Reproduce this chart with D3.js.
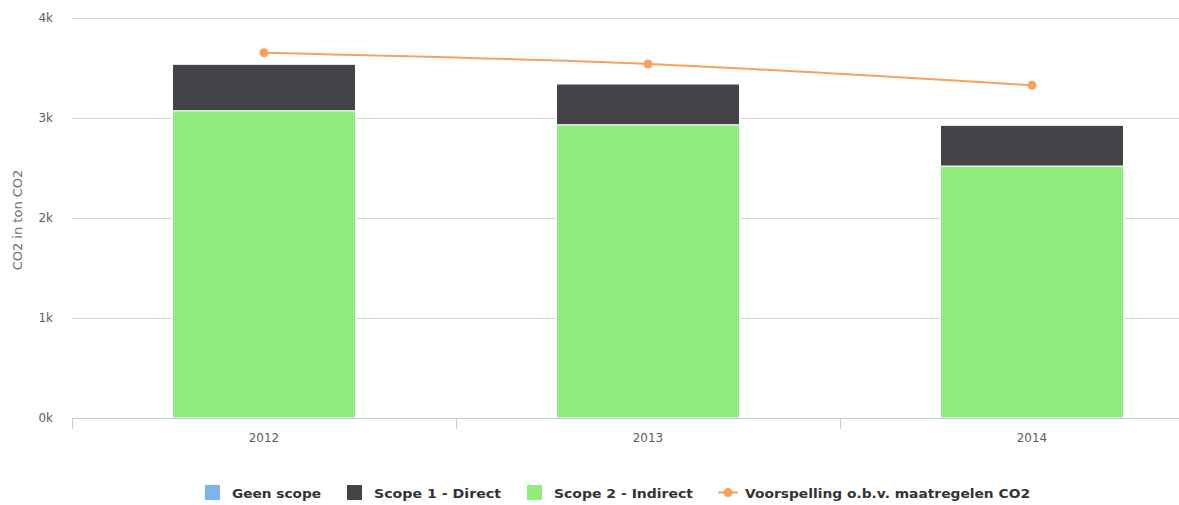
<!DOCTYPE html>
<html>
<head>
<meta charset="utf-8">
<script src="https://cdn.jsdelivr.net/npm/d3@7"></script>
<style>
  body { margin: 0; background: #fff; }
  svg { display: block; }
</style>
</head>
<body>
<div id="chart"></div>
<script>
var WIDTH = 1179
var HEIGHT = 505

// data
var years = ['2012', '2013', '2014'];
var geenScope = [0, 0, 0];
var scope1 = [464, 407, 407];
var scope2 = [3073, 2933, 2520];
var voorspelling = [3653, 3540, 3327];
var yTicks = [0, 1000, 2000, 3000, 4000];

var seriesNames = ['Geen scope', 'Scope 1 - Direct', 'Scope 2 - Indirect', 'Voorspelling o.b.v. maatregelen CO2'];
var colors = ['#7cb5ec', '#434348', '#90ed7d', '#f7a35c'];

const svg = d3.select('#chart').append('svg')
    .attr('width', WIDTH)
    .attr('height', HEIGHT);

// plot runs past the right edge of the picture (cropped chart)
let x = d3.scaleBand()
    .domain(years)
    .range([72, 1224]);
let y = d3.scaleLinear()
    .domain([0, 4000])
    .range([418, 18]);

// gridlines
svg.append('g').selectAll('line')
    .data(yTicks.slice(1))
    .enter()
    .append('line')
    .attr('x1', 72)
    .attr('x2', WIDTH)
    .attr('y1', d => Math.round(y(d)) + 0.5)
    .attr('y2', d => Math.round(y(d)) + 0.5)
    .attr('stroke', '#d8d8d8')
    .attr('stroke-width', 1);

// y labels
svg.append('g').selectAll('text')
    .data(yTicks)
    .enter()
    .append('text')
    .attr('x', 53)
    .attr('y', d => y(d) + 4)
    .attr('text-anchor', 'end')
    .attr('font-family', 'DejaVu Sans, sans-serif')
    .attr('font-size', 12)
    .attr('fill', '#606060')
    .text(d => (d / 1000) + 'k');

// y title
svg.append('text')
    .attr('transform', 'translate(22,' + (y(2000) + 2) + ') rotate(-90)')
    .attr('text-anchor', 'middle')
    .attr('font-family', 'DejaVu Sans, sans-serif')
    .attr('font-size', 13)
    .attr('fill', '#707070')
    .text('CO2 in ton CO2');

// stacked bars
var stackData = years.map((yr, i) => ({
    year: yr,
    geen: geenScope[i],
    s1: scope1[i],
    s2: scope2[i]
}));
var stack = d3.stack().keys(['s2', 's1', 'geen']);
var layers = stack(stackData);
var layerColor = { s2: colors[2], s1: colors[1], geen: colors[0] };
var barW = 183;

svg.append('g').selectAll('g')
    .data(layers)
    .enter()
    .append('g')
    .attr('fill', d => layerColor[d.key])
    .selectAll('rect')
    .data(d => d.filter(p => p[1] - p[0] > 0))
    .enter()
    .append('rect')
    .attr('x', d => x(d.data.year) + x.bandwidth() / 2 - barW / 2)
    .attr('width', barW)
    .attr('y', d => y(d[1]))
    .attr('height', d => y(d[0]) - y(d[1]))
    .attr('stroke', '#ffffff')
    .attr('stroke-width', 1);

// x axis
var xAxisG = svg.append('g');
xAxisG.append('line')
    .attr('x1', 72)
    .attr('x2', WIDTH)
    .attr('y1', 418.5)
    .attr('y2', 418.5)
    .attr('stroke', '#c0d0e0')
    .attr('stroke-width', 1);
xAxisG.selectAll('line.tick')
    .data(years)
    .enter()
    .append('line')
    .attr('class', 'tick')
    .attr('x1', d => x(d) + 0.5)
    .attr('x2', d => x(d) + 0.5)
    .attr('y1', 418)
    .attr('y2', 429)
    .attr('stroke', '#c0d0e0')
    .attr('stroke-width', 1);
xAxisG.selectAll('text')
    .data(years)
    .enter()
    .append('text')
    .attr('x', d => x(d) + x.bandwidth() / 2)
    .attr('y', 442)
    .attr('text-anchor', 'middle')
    .attr('font-family', 'DejaVu Sans, sans-serif')
    .attr('font-size', 12)
    .attr('fill', '#606060')
    .text(d => d);

// forecast line
var lineData = years.map((yr, i) => [x(yr) + x.bandwidth() / 2, y(voorspelling[i])]);
var line = d3.line().curve(d3.curveMonotoneX);
svg.append('path')
    .attr('d', line(lineData))
    .attr('fill', 'none')
    .attr('stroke', colors[3])
    .attr('stroke-width', 2);
svg.append('g').selectAll('circle')
    .data(lineData)
    .enter()
    .append('circle')
    .attr('cx', d => d[0])
    .attr('cy', d => d[1])
    .attr('r', 4.5)
    .attr('fill', colors[3]);

// legend
var legendX = [205, 347, 527, 718];
var legendTextW = [89, 127, 139, 285];
var legend = svg.append('g')
    .attr('font-family', 'DejaVu Sans, sans-serif')
    .attr('font-weight', 'bold')
    .attr('font-size', 12.5)
    .attr('fill', '#333333');

seriesNames.forEach((name, i) => {
    var lx = legendX[i];
    var g = legend.append('g');
    var tx = lx + 27;
    if (i < 3) {
        g.append('rect')
            .attr('x', lx)
            .attr('y', 485)
            .attr('width', 15)
            .attr('height', 15)
            .attr('fill', colors[i]);
    } else {
        g.append('line')
            .attr('x1', lx)
            .attr('x2', lx + 20)
            .attr('y1', 492.5)
            .attr('y2', 492.5)
            .attr('stroke', colors[3])
            .attr('stroke-width', 2);
        g.append('circle')
            .attr('cx', lx + 10)
            .attr('cy', 492.5)
            .attr('r', 4.5)
            .attr('fill', colors[3]);
    }
    g.append('text')
        .attr('x', tx)
        .attr('y', 498)
        .attr('textLength', legendTextW[i])
        .attr('lengthAdjust', 'spacingAndGlyphs')
        .text(name);
});
</script>
</body>
</html>
